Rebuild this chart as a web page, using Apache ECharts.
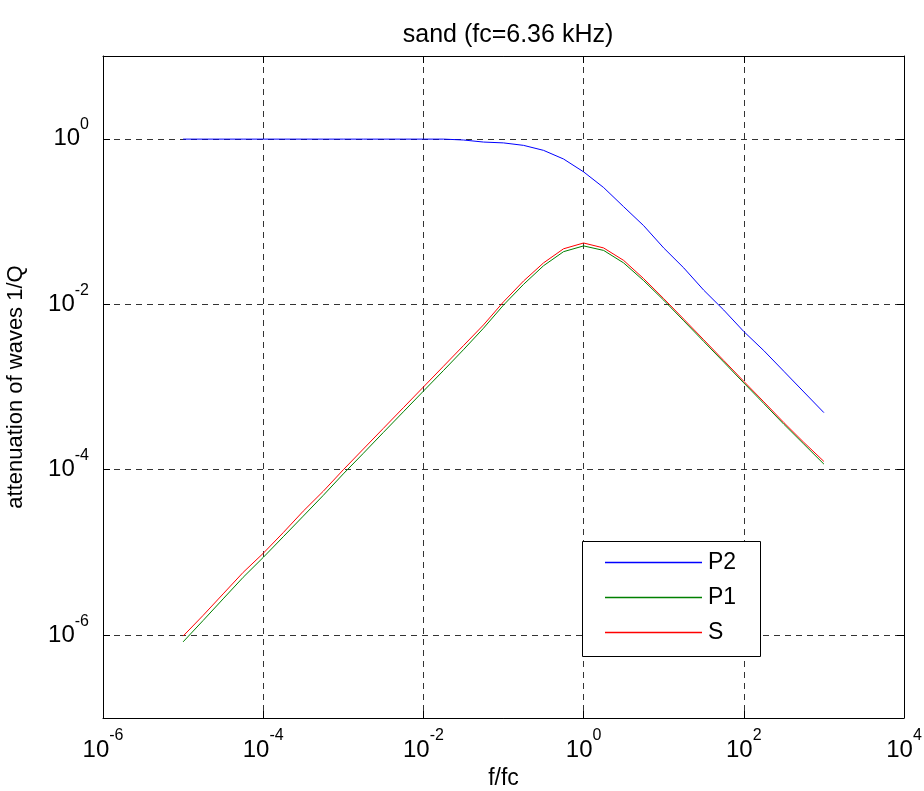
<!DOCTYPE html>
<html>
<head>
<meta charset="utf-8">
<script src="https://cdn.jsdelivr.net/npm/echarts@6/dist/echarts.min.js"></script>
<style>
html,body{margin:0;padding:0;background:#fff;}
#chart{width:924px;height:791px;}
</style>
</head>
<body>
<div id="chart"></div>
<script>
// f/fc sample points (quarter-decade steps)
const freq = [1e-5,1.78e-5,3.16e-5,5.62e-5,1e-4,1.78e-4,3.16e-4,5.62e-4,1e-3,1.78e-3,3.16e-3,5.62e-3,
  1e-2,1.78e-2,3.16e-2,5.62e-2,1e-1,1.78e-1,3.16e-1,5.62e-1,1,1.78,3.16,5.62,10,17.8,31.6,56.2,100,178,316,562,1000];
// attenuation 1/Q
const p2 = [0.99,0.99,0.99,0.99,0.99,0.99,0.99,0.99,0.99,0.99,0.99,0.99,
  0.99,0.99,0.966,0.912,0.891,0.832,0.724,0.569,0.398,0.257,0.151,8.91e-2,4.79e-2,2.75e-2,1.48e-2,8.51e-3,4.68e-3,2.75e-3,1.55e-3,8.71e-4,4.90e-4];
const p1 = [8.32e-7,1.51e-6,2.75e-6,5.01e-6,8.71e-6,1.55e-5,2.75e-5,4.90e-5,8.91e-5,1.58e-4,2.82e-4,5.01e-4,
  8.91e-4,1.58e-3,2.82e-3,5.13e-3,9.77e-3,1.74e-2,2.92e-2,4.32e-2,5.07e-2,4.47e-2,3.16e-2,1.93e-2,1.12e-2,6.31e-3,3.55e-3,2.00e-3,1.12e-3,6.31e-4,3.55e-4,2.04e-4,1.17e-4];
const sw = [9.77e-7,1.74e-6,3.16e-6,5.75e-6,9.77e-6,1.74e-5,3.16e-5,5.50e-5,1.00e-4,1.78e-4,3.16e-4,5.62e-4,
  1.00e-3,1.78e-3,3.16e-3,5.62e-3,1.07e-2,1.91e-2,3.16e-2,4.68e-2,5.50e-2,4.79e-2,3.39e-2,2.04e-2,1.17e-2,6.61e-3,3.72e-3,2.09e-3,1.17e-3,6.61e-4,3.72e-4,2.14e-4,1.26e-4];
const seriesNames = ['P2','P1','S'];
const seriesColors = ['#0000ff','#008000','#ff0000'];
const titleText = 'sand (fc=6.36 kHz)';
const xName = 'f/fc';
const yName = 'attenuation of waves 1/Q';

const FONT = 'Liberation Sans';
const chart = echarts.init(document.getElementById('chart'));
const pairs = arr => freq.map((f,i)=>[f,arr[i]]);
const powLabel = v => '{b|10}{s|' + Math.round(Math.log10(v)) + '}';
const rich = {
  b:{fontSize:24,fontFamily:FONT,color:'#000'},
  s:{fontSize:16,fontFamily:FONT,color:'#000',padding:[0,0,28,0]}
};
const gridLine = {show:true,lineStyle:{color:'#333',width:1,type:[6,5]}};
const axLine = {show:true,onZero:false,lineStyle:{color:'#000',width:1}};
const axTick = {show:true,inside:true,length:7,lineStyle:{color:'#000'}};

const option = {
  animation:false,
  backgroundColor:'#fff',
  title:{text:titleText,left:503,top:18,textAlign:'center',
    textStyle:{fontFamily:FONT,fontSize:25,fontWeight:'normal',color:'#000'}},
  grid:{left:103,top:56,right:20,bottom:73,containLabel:false,outerBoundsMode:'none'},
  xAxis:[
    {type:'log',logBase:100,min:1e-6,max:1e4,position:'bottom',
     axisLine:axLine,axisTick:axTick,splitLine:gridLine,
     axisLabel:{formatter:powLabel,rich:rich,margin:10},
     name:xName,nameLocation:'middle',nameGap:49,
     nameTextStyle:{fontFamily:FONT,fontSize:23,color:'#000'}},
    {type:'log',logBase:100,min:1e-6,max:1e4,position:'top',
     axisLine:axLine,axisTick:axTick,splitLine:{show:false},axisLabel:{show:false}}
  ],
  yAxis:[
    {type:'log',logBase:100,min:1e-7,max:1e1,position:'left',
     axisLine:axLine,axisTick:axTick,splitLine:gridLine,
     axisLabel:{formatter:powLabel,rich:rich,margin:14,showMinLabel:false,showMaxLabel:false},
     name:yName,nameLocation:'middle',nameGap:76,nameRotate:90,
     nameTextStyle:{fontFamily:FONT,fontSize:22,color:'#000'}},
    {type:'log',logBase:100,min:1e-7,max:1e1,position:'right',
     axisLine:axLine,axisTick:axTick,splitLine:{show:false},axisLabel:{show:false}}
  ],
  legend:{orient:'vertical',left:600,top:546,itemWidth:97,itemHeight:1.5,itemGap:12,z:10,
    icon:'rect',data:seriesNames,
    textStyle:{fontFamily:FONT,fontSize:23,color:'#000',padding:[0,0,0,1]}},
  graphic:[{type:'rect',left:582,top:541,z:5,
    shape:{width:178,height:115},style:{fill:'#fff',stroke:'#000',lineWidth:1}}],
  series:[p2,p1,sw].map((arr,i)=>({
    name:seriesNames[i],type:'line',data:pairs(arr),showSymbol:false,symbol:'none',
    lineStyle:{color:seriesColors[i],width:1},itemStyle:{color:seriesColors[i]},z:2
  }))
};
chart.setOption(option);
</script>
</body>
</html>
